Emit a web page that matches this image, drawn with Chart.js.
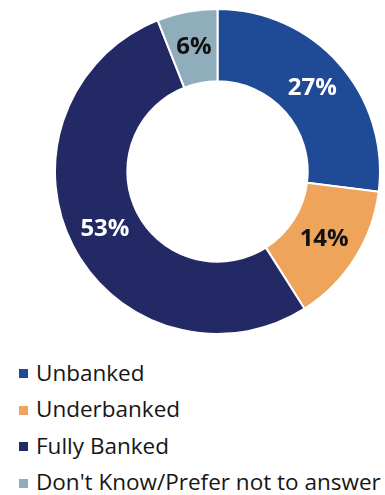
<!DOCTYPE html>
<html>
<head>
<meta charset="utf-8">
<script src="https://cdn.jsdelivr.net/npm/chart.js@4/dist/chart.umd.min.js"></script>
<style>
  html, body { margin: 0; padding: 0; background: #fff; }
  body { width: 385px; height: 495px; position: relative; overflow: hidden; font-family: "Open Sans", sans-serif; }
  #donutBox { position: absolute; left: 54px; top: 8px; width: 327px; height: 327px; }
  #legend { position: absolute; left: 0; top: 0; }
  .item { position: absolute; left: 19px; height: 30px; display: flex; align-items: center; white-space: nowrap;
          font-size: 22.5px; color: #161616; }
  .swatch { width: 9px; height: 9px; margin-right: 8px; margin-top: 3px; flex: none; }
</style>
</head>
<body>
<div id="donutBox"><canvas id="chart"></canvas></div>
<div id="legend"></div>
<script>
// Survey shares by banking status
const categories = ["Unbanked", "Underbanked", "Fully Banked", "Don't Know/Prefer not to answer"];
const shares = [27, 14, 53, 6];
const sliceColors = ["#1f4a96", "#eea45b", "#222965", "#8fadba"];
const labelColors = ["#ffffff", "#111111", "#ffffff", "#111111"];

// Percentage labels drawn at the middle of each ring segment
const sliceLabels = {
  id: "sliceLabels",
  afterDatasetsDraw(chart) {
    const ctx = chart.ctx;
    const meta = chart.getDatasetMeta(0);
    ctx.save();
    ctx.font = "bold 24px 'Open Sans', sans-serif";
    ctx.textAlign = "center";
    ctx.textBaseline = "middle";
    meta.data.forEach((arc, i) => {
      const p = arc.getCenterPoint();
      ctx.fillStyle = labelColors[i];
      ctx.fillText(shares[i] + "%", p.x, p.y);
    });
    ctx.restore();
  }
};

const chart = new Chart(document.getElementById("chart"), {
  type: "doughnut",
  data: {
    labels: categories,
    datasets: [{
      data: shares,
      backgroundColor: sliceColors,
      borderColor: "#ffffff",
      borderWidth: 2,
      hoverOffset: 0
    }]
  },
  options: {
    responsive: true,
    maintainAspectRatio: false,
    animation: false,
    cutout: "55.5%",
    layout: { padding: 0 },
    plugins: {
      legend: { display: false },
      tooltip: { enabled: false }
    }
  },
  plugins: [sliceLabels]
});

// Vertical legend below the ring
const legendEl = document.getElementById("legend");
categories.forEach((name, i) => {
  const row = document.createElement("div");
  row.className = "item";
  row.style.top = (357 + i * 36.5) + "px";
  const sw = document.createElement("span");
  sw.className = "swatch";
  sw.style.background = sliceColors[i];
  const tx = document.createElement("span");
  tx.textContent = name;
  row.appendChild(sw);
  row.appendChild(tx);
  legendEl.appendChild(row);
});
</script>
</body>
</html>
